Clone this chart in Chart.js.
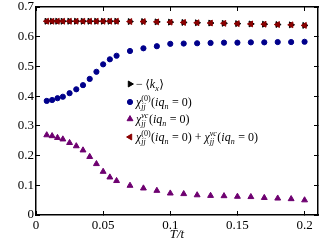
<!DOCTYPE html>
<html>
<head>
<meta charset="utf-8">
<script src="https://cdn.jsdelivr.net/npm/chart.js@4"></script>
<style>
  html, body { margin: 0; padding: 0; background: #fff; }
</style>
</head>
<body>
<canvas id="chart" width="332" height="249"></canvas>
<script>
// temperatures T/t
const temps = [0.008, 0.012, 0.016, 0.02, 0.025, 0.03, 0.035, 0.04, 0.045, 0.05, 0.055, 0.06,
  0.07, 0.08, 0.09, 0.1, 0.11, 0.12, 0.13, 0.14, 0.15, 0.16, 0.17, 0.18, 0.19, 0.2];
// -<k_x>
const kinetic = [0.652, 0.652, 0.652, 0.652, 0.652, 0.652, 0.652, 0.652, 0.652, 0.652, 0.652, 0.652,
  0.651, 0.651, 0.650, 0.649, 0.648, 0.647, 0.646, 0.645, 0.644, 0.643, 0.642, 0.641, 0.640, 0.638];
// chi_jj^(0)
const chi0 = [0.384, 0.387, 0.393, 0.398, 0.41, 0.423, 0.437, 0.458, 0.482, 0.507, 0.524, 0.536,
  0.552, 0.561, 0.568, 0.576, 0.577, 0.578, 0.579, 0.580, 0.580, 0.581, 0.581, 0.582, 0.582, 0.583];
// chi_jj^vc
const chiVc = [0.269, 0.266, 0.260, 0.255, 0.243, 0.232, 0.218, 0.196, 0.172, 0.146, 0.127, 0.115,
  0.099, 0.090, 0.082, 0.073, 0.071, 0.067, 0.065, 0.064, 0.062, 0.061, 0.058, 0.056, 0.054, 0.050];
// chi0 + chiVc (lies on top of -<k_x>)
const chiSum = [0.652, 0.652, 0.652, 0.652, 0.652, 0.652, 0.652, 0.652, 0.652, 0.652, 0.652, 0.652,
  0.651, 0.651, 0.650, 0.649, 0.648, 0.647, 0.646, 0.645, 0.644, 0.643, 0.642, 0.641, 0.640, 0.638];

const xTicks = [0, 0.05, 0.1, 0.15, 0.2];
const xTickLabels = ["0", "0.05", "0.1", "0.15", "0.2"];
const yTicks = [0, 0.1, 0.2, 0.3, 0.4, 0.5, 0.6, 0.7];
const yTickLabels = ["0", "0.1", "0.2", "0.3", "0.4", "0.5", "0.6", "0.7"];

const serif = '"Liberation Serif", "DejaVu Serif", serif';

function pts(ys) {
  return temps.map((t, i) => ({ x: t, y: ys[i] }));
}

// legend entries: plain text pieces, italic pieces and stacked scripts
const legendItems = [
  { style: "triangle", rot: 90, color: "#000000",
    parts: [{ t: "\u2212\u2009\u27e8" }, { t: "k", i: 1 }, { sub: "x" }, { t: "\u27e9" }] },
  { style: "circle", rot: 0, color: "#00008b",
    parts: [{ t: "\u03c7", i: 1 }, { sup: "(0)", sub: "jj" }, { t: "(" }, { t: "iq", i: 1 }, { sub: "n" }, { t: " = 0)" }] },
  { style: "triangle", rot: 0, color: "#6e0070",
    parts: [{ t: "\u03c7", i: 1 }, { sup: "vc", supI: 1, sub: "jj" }, { t: "(" }, { t: "iq", i: 1 }, { sub: "n" }, { t: " = 0)" }] },
  { style: "triangle", rot: -90, color: "#8b0000",
    parts: [{ t: "\u03c7", i: 1 }, { sup: "(0)", sub: "jj" }, { t: "(" }, { t: "iq", i: 1 }, { sub: "n" }, { t: " = 0) + " },
      { t: "\u03c7", i: 1 }, { sup: "vc", supI: 1, sub: "jj" }, { t: "(" }, { t: "iq", i: 1 }, { sub: "n" }, { t: " = 0)" }] }
];

function fnt(size, it) {
  return (it ? "italic " : "") + size + "px " + serif;
}

function drawRich(ctx, parts, x, y) {
  parts.forEach(p => {
    if (p.sup !== undefined || p.sub !== undefined) {
      let w = 0;
      if (p.sup) {
        ctx.font = fnt(8, p.supI);
        ctx.fillText(p.sup, x, y - 5);
        w = ctx.measureText(p.sup).width;
      }
      if (p.sub) {
        ctx.font = fnt(8, true);
        ctx.fillText(p.sub, x, y + 3);
        w = Math.max(w, ctx.measureText(p.sub).width);
      }
      x += w + 0.5;
    } else {
      ctx.font = fnt(12, p.i);
      ctx.fillText(p.t, x, y);
      x += ctx.measureText(p.t).width;
    }
  });
}

const legendPlugin = {
  id: "innerLegend",
  afterDraw(chart) {
    const ctx = chart.ctx;
    ctx.save();
    ctx.textBaseline = "alphabetic";
    ctx.textAlign = "left";
    const lx = 130, ly = [84, 102, 119, 137];
    legendItems.forEach((it, i) => {
      ctx.fillStyle = it.color;
      ctx.strokeStyle = it.color;
      ctx.lineWidth = 1;
      Chart.helpers.drawPoint(ctx, {
        pointStyle: it.style, radius: it.style === "circle" ? 2.6 : 3.4,
        rotation: it.rot, borderWidth: 1
      }, lx, ly[i]);
      ctx.fillStyle = "#000";
      drawRich(ctx, it.parts, lx + 6, ly[i] + 4);
    });
    ctx.restore();
  }
};

function ds(data, color, style, rot, radius) {
  return {
    data: data,
    showLine: false,
    pointStyle: style,
    pointRotation: rot,
    pointRadius: radius,
    pointBackgroundColor: color,
    pointBorderColor: color,
    pointBorderWidth: 1
  };
}

// inward tick marks (negative tick length), no grid lines inside
const tickGrid = { display: true, drawOnChartArea: false, drawTicks: true, tickLength: -4, color: "#000", lineWidth: 1 };
const frameBorder = { display: true, color: "#000", width: 1.5 };

new Chart(document.getElementById("chart"), {
  type: "scatter",
  data: {
    // first dataset is drawn on top
    datasets: [
      ds(pts(chiSum), "#8b0000", "triangle", -90, 3.4),
      ds(pts(kinetic), "#000000", "triangle", 90, 3.4),
      ds(pts(chi0), "#00008b", "circle", 0, 2.6),
      ds(pts(chiVc), "#6e0070", "triangle", 0, 3.4)
    ]
  },
  options: {
    responsive: false,
    animation: false,
    events: [],
    layout: { padding: { left: 0, right: 14, top: 7, bottom: 0 } },
    plugins: { legend: { display: false }, tooltip: { enabled: false } },
    scales: {
      x: {
        type: "linear",
        position: "bottom",
        min: 0,
        max: 0.21,
        grid: tickGrid,
        border: frameBorder,
        afterBuildTicks: s => { s.ticks = xTicks.map(v => ({ value: v })); },
        afterFit: s => { s.height = 34; s.paddingLeft = 0; s.paddingRight = 0; },
        ticks: {
          color: "#000",
          padding: 7,
          maxRotation: 0,
          font: { family: serif, size: 13 },
          callback: (v, i) => xTickLabels[i]
        },
        title: {
          display: true,
          text: "T/t",
          color: "#000",
          padding: { top: 0, bottom: 7 },
          font: { family: serif, size: 13, style: "italic" }
        }
      },
      x2: {
        type: "linear",
        position: "top",
        min: 0,
        max: 0.21,
        grid: tickGrid,
        border: frameBorder,
        afterBuildTicks: s => { s.ticks = xTicks.map(v => ({ value: v })); },
        afterFit: s => { s.height = 0; s.paddingLeft = 0; s.paddingRight = 0; },
        ticks: { display: false }
      },
      y: {
        type: "linear",
        position: "left",
        min: 0,
        max: 0.7,
        grid: tickGrid,
        border: frameBorder,
        afterBuildTicks: s => { s.ticks = yTicks.map(v => ({ value: v })); },
        afterFit: s => { s.width = 36; s.paddingTop = 0; s.paddingBottom = 0; },
        ticks: {
          color: "#000",
          padding: 6,
          font: { family: serif, size: 13 },
          callback: (v, i) => yTickLabels[i]
        }
      },
      y2: {
        type: "linear",
        position: "right",
        min: 0,
        max: 0.7,
        grid: tickGrid,
        border: frameBorder,
        afterBuildTicks: s => { s.ticks = yTicks.map(v => ({ value: v })); },
        afterFit: s => { s.width = 0; s.paddingTop = 0; s.paddingBottom = 0; },
        ticks: { display: false }
      }
    }
  },
  plugins: [legendPlugin]
});
</script>
</body>
</html>
